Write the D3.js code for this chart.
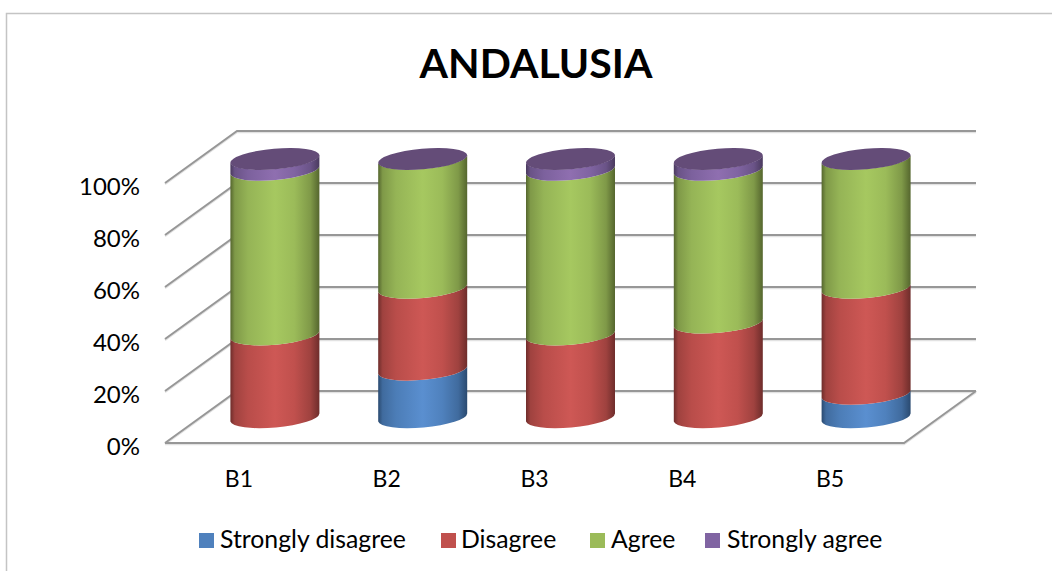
<!DOCTYPE html>
<html><head><meta charset="utf-8">
<script src="https://cdn.jsdelivr.net/npm/d3@7"></script>
<style>html,body{margin:0;padding:0;background:#fff}svg{display:block}text{font-family:Lato,Carlito,"Noto Sans",sans-serif;fill:#000}</style>
</head><body><svg id="c" width="1052" height="571"></svg>
<script>
const title = "ANDALUSIA";
const categories = ["B1","B2","B3","B4","B5"];
const seriesNames = ["Strongly disagree","Disagree","Agree","Strongly agree"];
const stronglyDisagree = [0,18.4,0,0,9.1];
const disagree = [32,31.7,32,36.6,41];
const agree = [63.7,49.9,63.7,59.1,49.9];
const stronglyAgree = [4.3,0,4.3,4.3,0];
const yTicks = [0,20,40,60,80,100];
const colors = ["#4f81bd","#c0504d","#9bbb59","#8064a2"];
const darks = ["#2a4a70","#6e2d2b","#55662e","#4a3a5e"];
const lights = ["#5a8fd0","#ce5855","#a6c860","#8f6fb0"];
const topColor = "#644c78";
const seriesValues = [stronglyDisagree,disagree,agree,stronglyAgree];

const svg = d3.select("#c");
const depthX=72, depthY=52;
const x = d3.scaleBand().domain(categories).range([165,904]);
const y = d3.scaleLinear().domain([0,100]).range([443,183]);
const yBar = d3.scaleLinear().domain([0,100]).range([417.5,159]);
const legendX = d3.scaleOrdinal().domain(seriesNames).range([199,441,590,705]);
const legendTextX = d3.scaleOrdinal().domain(seriesNames).range([220,461,611,727]);

// frame
svg.append("path").attr("d","M6.5,571V13.5H1052").attr("fill","none").attr("stroke","#c4c4c4").attr("stroke-width",1.5);

// title
svg.append("text").attr("x",536).attr("y",78).attr("text-anchor","middle")
  .attr("font-size",41).attr("font-weight",700).text(title);

// walls
function wall(stroke,off,sw){
  const grid = svg.append("g").attr("fill","none").attr("stroke",stroke).attr("stroke-width",sw).attr("transform",`translate(0,${off})`);
  yTicks.forEach(t=>{
    const yy=y(t);
    grid.append("path").attr("d",`M${x.range()[0]},${yy}L${x.range()[0]+depthX},${yy-depthY}L${x.range()[1]+depthX},${yy-depthY}`);
  });
  grid.append("path").attr("d",`M${x.range()[0]},${y(0)}L${x.range()[1]},${y(0)}L${x.range()[1]+depthX},${y(0)-depthY}`);
}
wall("#e2e2e2",1.2,2);
wall("#979797",0,2);

// axes
const yAxis = d3.axisLeft(y).tickValues(yTicks).tickFormat(d=>d+"%").tickSize(0).tickPadding(0);
const ga = svg.append("g").attr("transform","translate(140,3)").call(yAxis);
ga.select(".domain").remove();
ga.selectAll("text").attr("font-size",24).attr("dy","0.36em");
const xAxis = d3.axisBottom(x).tickSize(0).tickPadding(0);
const gx = svg.append("g").attr("transform","translate(0,479)").call(xAxis);
gx.select(".domain").remove();
gx.selectAll("text").attr("font-size",23).attr("dy","0.36em").attr("y",0);

// gradients
const defs = svg.append("defs");
colors.forEach((c,i)=>{
  const mix = t=>d3.interpolateRgb(darks[i],c)(t);
  const g = defs.append("linearGradient").attr("id","g"+i).attr("x1",0).attr("x2",1).attr("y1",0).attr("y2",0);
  [[0,darks[i]],[0.05,mix(0.6)],[0.2,mix(0.92)],[0.5,lights[i]],[0.72,c],[0.9,mix(0.6)],[1,darks[i]]]
   .forEach(s=>g.append("stop").attr("offset",s[0]).attr("stop-color",s[1]));
});

// cylinders
const rx=44.7, ry=10.3, rot=-5.1, hx=44.5, hy=4;
const bars = svg.append("g");
categories.forEach((cat,ci)=>{
  const cx = x(cat)+x.bandwidth()/2+depthX/2;
  let acc=0;
  seriesValues.forEach((vals,si)=>{
    const v=vals[ci];
    if(!v) return;
    const v0=acc, v1=acc+v; acc=v1;
    const d=`M${cx-hx},${yBar(v1)+hy}A${rx},${ry},${rot},0,0,${cx+hx},${yBar(v1)-hy}`+
            `L${cx+hx},${yBar(v0)-hy}A${rx},${ry},${rot},0,1,${cx-hx},${yBar(v0)+hy}Z`;
    bars.append("path").attr("d",d).attr("fill",`url(#g${si})`);
  });
  bars.append("ellipse").attr("cx",0).attr("cy",0).attr("rx",rx).attr("ry",ry)
    .attr("transform",`translate(${cx},${yBar(acc)}) rotate(${rot})`).attr("fill",topColor);
});

// legend
const lg = svg.append("g");
seriesNames.forEach((n,i)=>{
  lg.append("rect").attr("x",legendX(n)).attr("y",533).attr("width",15).attr("height",15).attr("fill",colors[i]);
  lg.append("text").attr("x",legendTextX(n)).attr("y",548).attr("font-size",24.8).text(n);
});
</script></body></html>
